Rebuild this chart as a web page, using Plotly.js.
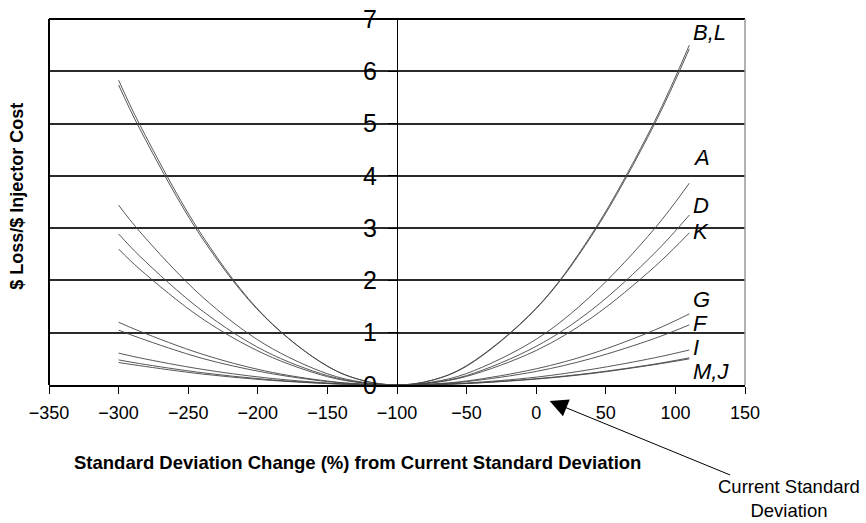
<!DOCTYPE html>
<html>
<head>
<meta charset="utf-8">
<script src="https://cdn.plot.ly/plotly-3.0.1.min.js"></script>
<style>html,body{margin:0;padding:0;background:#fff;}#chart{width:866px;height:523px;}</style>
</head>
<body>
<div id="chart"></div>
<script>
// Standard deviation change (%) values where curves were read
const sdChange = [-300, -285, -240, -195, -150, -125, -100, -75, -50, 0, 40, 85, 110];

// $ Loss / $ Injector Cost for each injector
const seriesB = [5.83, 4.99, 2.86, 1.31, 0.36, 0.09, 0, 0.09, 0.37, 1.47, 2.89, 5.04, 6.50];
const seriesL = [5.74, 4.91, 2.81, 1.30, 0.36, 0.09, 0, 0.09, 0.36, 1.46, 2.86, 4.99, 6.43];
const seriesA = [3.44, 2.94, 1.69, 0.78, 0.215, 0.054, 0, 0.055, 0.22, 0.875, 1.72, 2.99, 3.86];
const seriesD = [2.89, 2.47, 1.42, 0.65, 0.18, 0.045, 0, 0.046, 0.18, 0.74, 1.44, 2.52, 3.25];
const seriesK = [2.60, 2.22, 1.27, 0.59, 0.16, 0.04, 0, 0.04, 0.165, 0.66, 1.29, 2.26, 2.91];
const seriesG = [1.20, 1.03, 0.59, 0.27, 0.075, 0.019, 0, 0.019, 0.077, 0.31, 0.60, 1.05, 1.36];
const seriesF = [1.05, 0.90, 0.51, 0.24, 0.066, 0.016, 0, 0.016, 0.065, 0.26, 0.51, 0.89, 1.15];
const seriesI = [0.61, 0.52, 0.30, 0.14, 0.038, 0.01, 0, 0.01, 0.038, 0.15, 0.30, 0.52, 0.67];
const seriesM = [0.48, 0.41, 0.235, 0.11, 0.03, 0.0075, 0, 0.0074, 0.03, 0.12, 0.23, 0.40, 0.52];
const seriesJ = [0.43, 0.37, 0.21, 0.097, 0.027, 0.0067, 0, 0.007, 0.028, 0.113, 0.22, 0.39, 0.50];

const seriesNames = ["B", "L", "A", "D", "K", "G", "F", "I", "M", "J"];
const seriesData = [seriesB, seriesL, seriesA, seriesD, seriesK, seriesG, seriesF, seriesI, seriesM, seriesJ];

// Curve labels and their vertical positions (y units)
const curveLabels = ["B,L", "A", "D", "K", "G", "F", "I", "M,J"];
const curveLabelY = [6.74, 4.36, 3.44, 2.93, 1.63, 1.17, 0.71, 0.25];
const labelX = 111;

// Axis ticks
const xTicks = [-350, -300, -250, -200, -150, -100, -50, 0, 50, 100, 150];
const yTicks = [0, 1, 2, 3, 4, 5, 6, 7];

const FONT = "Arial, 'Liberation Sans', Helvetica, sans-serif";

const traces = seriesData.map((ys, i) => ({
  type: "scatter",
  mode: "lines",
  name: seriesNames[i],
  x: sdChange,
  y: ys,
  line: {color: "#444", width: 0.9, shape: "spline", smoothing: 1},
  hoverinfo: "x+y+name"
}));

const annotations = curveLabels.map((t, i) => ({
  x: labelX, y: curveLabelY[i], xref: "x", yref: "y",
  text: "<i>" + t + "</i>", showarrow: false,
  xanchor: "left", yanchor: "middle",
  font: {family: FONT, size: 22, color: "#000"}
}));

annotations.push({
  xref: "paper", yref: "paper", x: -0.047, y: 0.515,
  text: "<b>$ Loss/$ Injector Cost</b>", textangle: -90, showarrow: false,
  xanchor: "center", yanchor: "middle",
  font: {family: FONT, size: 18, color: "#000"}
});
annotations.push({
  xref: "paper", yref: "paper", x: 0.4435, y: -0.213,
  text: "<b>Standard Deviation Change (%) from Current Standard Deviation</b>", showarrow: false,
  xanchor: "center", yanchor: "middle",
  font: {family: FONT, size: 18.5, color: "#000"}
});
annotations.push({
  xref: "paper", yref: "paper", x: 0.7194, y: -0.0437,
  text: "Current Standard<br>Deviation", showarrow: true,
  ax: 239, ay: 98, arrowhead: 2, arrowsize: 3.6, arrowwidth: 1, arrowcolor: "#000",
  font: {family: FONT, size: 18.5, color: "#000"}
});

const layout = {
  width: 866, height: 523,
  margin: {l: 49, r: 121, t: 19, b: 138},
  paper_bgcolor: "#fff", plot_bgcolor: "#fff",
  showlegend: false,
  font: {family: FONT, color: "#000"},
  xaxis: {
    range: [-350, 150], tickmode: "array", tickvals: xTicks,
    ticks: "outside", ticklen: 7, tickcolor: "#000", tickwidth: 1,
    ticklabelstandoff: 4,
    showline: true, linecolor: "#000", linewidth: 1.5,
    showgrid: false, zeroline: false,
    tickfont: {family: FONT, size: 18, color: "#000"}
  },
  yaxis: {
    range: [0, 7], tickmode: "array", tickvals: yTicks,
    anchor: "free", position: 0.5, side: "left",
    ticks: "outside", ticklen: 9, tickcolor: "#000", tickwidth: 1,
    ticklabelstandoff: 6,
    showline: true, linecolor: "#000", linewidth: 1,
    showgrid: true, gridcolor: "#2a2a2a", gridwidth: 2,
    zeroline: false,
    tickfont: {family: FONT, size: 25, color: "#000"}
  },
  shapes: [
    {type: "line", xref: "paper", yref: "paper", x0: 0, x1: 0, y0: 0, y1: 1, line: {color: "#000", width: 2}},
    {type: "line", xref: "paper", yref: "paper", x0: 0, x1: 1, y0: 1, y1: 1, line: {color: "#000", width: 2}},
    {type: "line", xref: "paper", yref: "paper", x0: 1, x1: 1, y0: 0, y1: 1, line: {color: "#999", width: 1.5}}
  ],
  annotations: annotations
};

Plotly.newPlot("chart", traces, layout, {displayModeBar: false});
</script>
</body>
</html>
